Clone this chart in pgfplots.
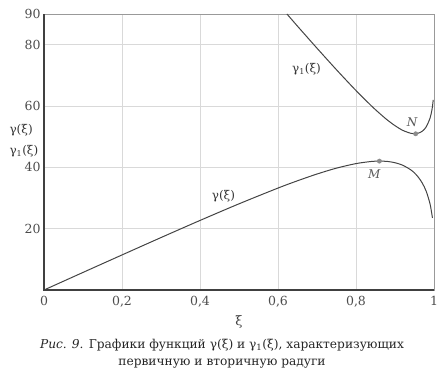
\documentclass[border=0pt]{standalone}
\usepackage{fontspec}
\setmainfont{DejaVu Serif}
\usepackage{pgfplots}
\pgfplotsset{compat=1.18}
\definecolor{curve}{HTML}{444444}
\begin{document}
\begin{tikzpicture}
\useasboundingbox (-44pt,-87pt) rectangle (397pt,290pt);
\begin{axis}[
  at={(0pt,0pt)}, anchor=south west, scale only axis,
  width=390pt, height=276pt,
  xmin=0, xmax=1, ymin=0, ymax=90,
  xtick={0,0.2,0.4,0.6,0.8,1},
  xticklabels={0,{0,2},{0,4},{0,6},{0,8},1},
  ytick={20,40,60,80,90},
  yticklabels={20,40,60,80,90},
  grid=major,
  major grid style={black!15, line width=0.8pt},
  axis line style={black!40},
  tick style={draw=none},
  tick label style={font=\fontsize{12.5}{14}\selectfont, text=black!70},
  xticklabel style={yshift=-3pt},
  /pgf/number format/assume math mode=true,
  xlabel={ξ}, xlabel style={font=\fontsize{13}{14}\selectfont, text=black!75, yshift=-1pt},
  clip=false,
]
\addplot[curve, line width=1pt, smooth] coordinates {
 (0,0) (0.1,5.73) (0.2,11.43) (0.3,17.10) (0.4,22.68) (0.5,28.10)
 (0.6,33.24) (0.65,35.62) (0.7,37.82) (0.75,39.74) (0.8,41.22)
 (0.84,41.92) (0.86,42.03) (0.88,41.93) (0.9,41.50) (0.92,40.68)
 (0.94,39.22) (0.95,38.17) (0.96,36.74) (0.97,34.86) (0.98,32.19)
 (0.99,27.99) (0.996,23.5)
};
\addplot[curve, line width=1pt, smooth] coordinates {
 (0.623,90) (0.65,86.03) (0.7,78.85) (0.75,71.81) (0.8,65.04)
 (0.84,59.98) (0.86,57.65) (0.88,55.47) (0.9,53.59) (0.92,52.05)
 (0.94,51.12) (0.95,50.93) (0.96,51.15) (0.97,51.79) (0.98,53.19)
 (0.99,56.12) (0.995,58.95) (0.998,62.0)
};
\addplot[only marks, mark=*, mark size=2.2pt, black!45] coordinates {(0.86,42.03) (0.953,50.93)};
\node[font=\fontsize{12}{14}\selectfont, text=black!80] at (axis cs:0.673,72) {γ\textsubscript{1}(ξ)};
\node[font=\fontsize{12}{14}\selectfont, text=black!80] at (axis cs:0.46,30.5) {γ(ξ)};
\node[font=\fontsize{12}{14}\selectfont\itshape, text=black!65] at (axis cs:0.847,37.7) {M};
\node[font=\fontsize{12}{14}\selectfont\itshape, text=black!65] at (axis cs:0.944,54.8) {N};
\draw[black!75, line width=1.1pt] (rel axis cs:0,1) -- (rel axis cs:0,0) -- (rel axis cs:1,0);
\end{axis}
\node[anchor=west, font=\fontsize{12}{14}\selectfont, text=black!80] at (-38pt,160pt) {γ(ξ)};
\node[anchor=west, font=\fontsize{12}{14}\selectfont, text=black!80] at (-38pt,139pt) {γ\textsubscript{1}(ξ)};
\node[font=\fontsize{12.2}{14}\selectfont, text=black!85] at (178pt,-55pt) {\textit{Рис. 9.} Графики функций γ(ξ) и γ\textsubscript{1}(ξ), характеризующих};
\node[font=\fontsize{12.2}{14}\selectfont, text=black!85] at (178pt,-74pt) {первичную и вторичную радуги};
\end{tikzpicture}
\end{document}
